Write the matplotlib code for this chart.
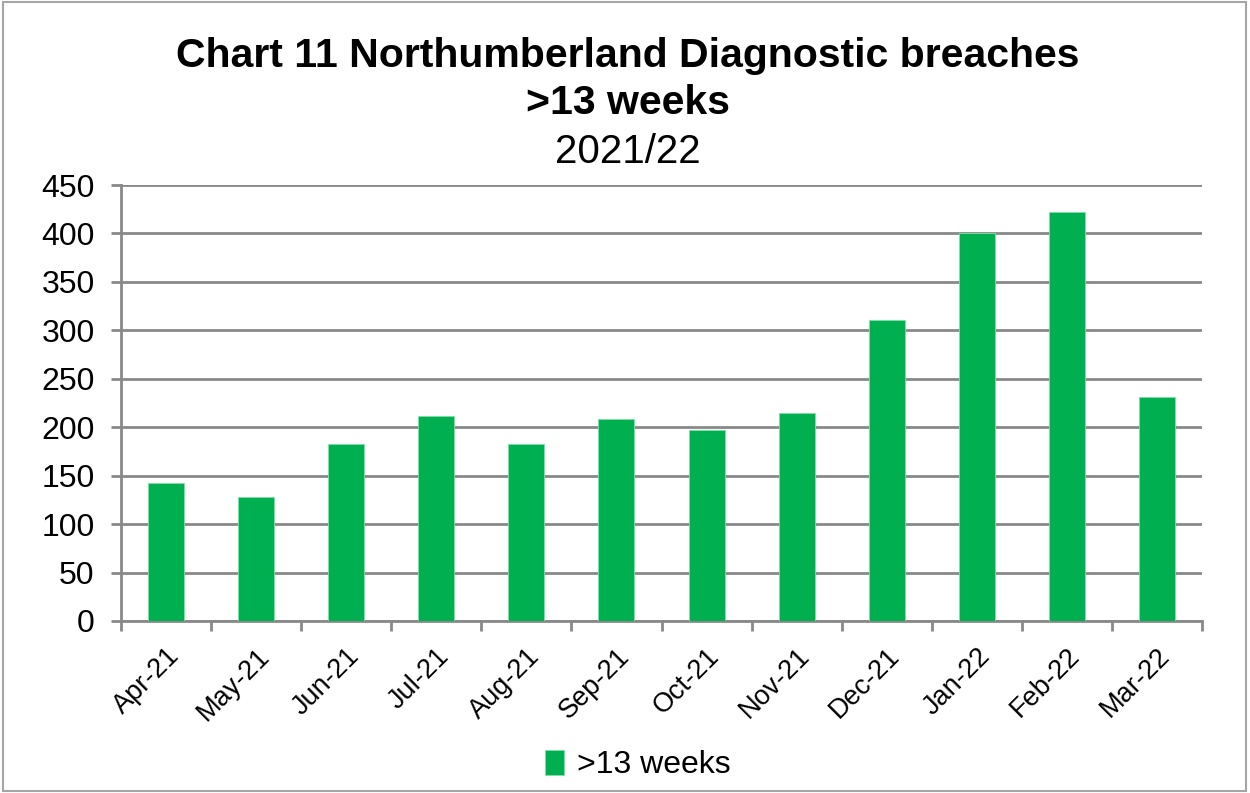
import matplotlib
matplotlib.use("Agg")
import matplotlib.pyplot as plt
from matplotlib.patches import Rectangle

categories = ["Apr-21", "May-21", "Jun-21", "Jul-21", "Aug-21", "Sep-21",
              "Oct-21", "Nov-21", "Dec-21", "Jan-22", "Feb-22", "Mar-22"]
values = [142, 128, 183, 212, 183, 209, 197, 215, 311, 400, 422, 231]
series_name = ">13 weeks"
yticks = [0, 50, 100, 150, 200, 250, 300, 350, 400, 450]

plt.rcParams['font.family'] = ['Liberation Sans', 'DejaVu Sans']

fig = plt.figure(figsize=(12.5, 7.93), dpi=100)
ax = fig.add_axes([0.0968, 0.2169, 0.8648, 0.5498])

green = "#00B050"
grid_c = "#898989"
x = list(range(len(categories)))
ax.bar(x, values, width=0.4, color=green, edgecolor="#7FE0A8", linewidth=0.6,
       zorder=3, label=series_name)

ax.set_xlim(-0.5, len(categories) - 0.5)
ax.set_ylim(0, 450)
ax.set_yticks(yticks)
ax.set_yticklabels([str(t) for t in yticks], fontsize=23)
ax.yaxis.grid(True, color=grid_c, linewidth=2, zorder=0)
ax.set_axisbelow(True)

ax.set_xticks([i - 0.5 for i in range(len(categories) + 1)], minor=False)
ax.set_xticklabels([""] * (len(categories) + 1))
ax.set_xticks(x, minor=True)
ax.set_xticklabels(categories, minor=True, rotation=45, ha="right",
                   rotation_mode="anchor", fontsize=19.5)
ax.tick_params(axis="x", which="minor", length=0, pad=16)
ax.tick_params(axis="x", which="major", length=7, width=2, color=grid_c)
ax.tick_params(axis="y", length=7, width=2, color=grid_c, pad=12)

for s in ["top", "right"]:
    ax.spines[s].set_visible(False)
for s in ["left", "bottom"]:
    ax.spines[s].set_color(grid_c)
    ax.spines[s].set_linewidth(2)

fig.text(0.5025, 0.930, "Chart 11 Northumberland Diagnostic breaches",
         ha="center", va="center", fontsize=29.5, fontweight="bold")
fig.text(0.5025, 0.870, ">13 weeks", ha="center", va="center",
         fontsize=29.5, fontweight="bold")
fig.text(0.5025, 0.808, "2021/22", ha="center", va="center", fontsize=29)

leg = fig.legend(loc="center", bbox_to_anchor=(0.51, 0.035), frameon=False,
                 fontsize=23, handlelength=0.6, handleheight=0.8,
                 handletextpad=0.4)

fig.patches.append(Rectangle((0.002, 0.002), 0.995, 0.995, transform=fig.transFigure,
                             fill=False, edgecolor="#A6A6A6", linewidth=1.5))

fig.savefig("out.png", dpi=100)
